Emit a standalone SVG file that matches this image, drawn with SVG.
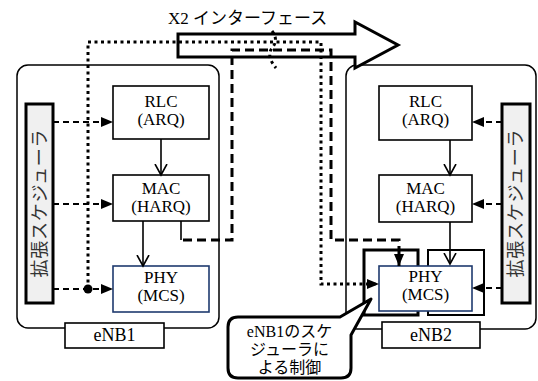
<svg xmlns="http://www.w3.org/2000/svg" width="538" height="381" viewBox="0 0 538 381">
<style>
.t{font-family:"Liberation Serif","Noto Sans CJK JP",serif;fill:#000;text-anchor:middle}
.b{font-family:"Liberation Serif",serif;font-size:17px;fill:#000;text-anchor:middle}
.box{fill:#fff;stroke:#000;stroke-width:1.6}
.phy{fill:#fff;stroke:#1f3a6e;stroke-width:1.6}
.cont{fill:#fff;stroke:#000;stroke-width:1.5}
.sch{fill:#f0f0f0;stroke:#000;stroke-width:3}
.scht{font-family:"Noto Sans CJK JP",sans-serif;font-size:18px;fill:#333;text-anchor:middle}
.dash{fill:none;stroke:#000;stroke-width:2;stroke-dasharray:6 4}
.solid{fill:none;stroke:#000;stroke-width:1.6}
.bigdash{fill:none;stroke:#000;stroke-width:3;stroke-dasharray:9 5}
.dot{fill:none;stroke:#000;stroke-width:3;stroke-dasharray:3 3.5}
</style>
<defs>
<marker id="tri" markerUnits="userSpaceOnUse" markerWidth="12" markerHeight="10" refX="12" refY="5" orient="auto">
<path d="M0,0 L12,5 L0,10 Z" fill="#000"/>
</marker>
<marker id="vee" markerUnits="userSpaceOnUse" markerWidth="14" markerHeight="14" refX="11" refY="7" orient="auto">
<path d="M0,1 L11,7 L0,13" fill="none" stroke="#000" stroke-width="1.6"/>
</marker>
</defs>

<g id="eNB1">
<rect class="cont" x="17" y="65" width="202" height="263" rx="11"/>
<rect class="box" x="65" y="323" width="99" height="25"/>
<text class="t" x="114.5" y="341" font-size="18">eNB1</text>
</g>
<g id="eNB2">
<rect class="cont" x="346" y="65" width="190" height="264" rx="11"/>
<rect class="box" x="382" y="322" width="98" height="26"/>
<text class="t" x="431" y="341" font-size="18">eNB2</text>
</g>

<g id="x2">
<polygon points="178,34 355,34 355,22 398,45 355,68 355,57 178,57" fill="#fff" stroke="#000" stroke-width="3" stroke-linejoin="miter"/>
<text class="t" x="168" y="24" font-size="17" style="text-anchor:start">X2 インターフェース</text>
</g>

<g id="sched1">
<rect class="sch" x="26" y="104" width="27" height="199"/>
<text class="scht" transform="translate(40,203.5) rotate(-90)" y="6" textLength="148">拡張スケジューラ</text>
</g>
<g id="sched2">
<rect class="sch" x="502" y="104" width="28" height="199"/>
<text class="scht" transform="translate(516,203.5) rotate(-90)" y="6" textLength="148">拡張スケジューラ</text>
</g>

<g id="rlc1">
<rect class="box" x="113" y="86" width="96" height="53"/>
<text class="b"><tspan x="161" y="107">RLC</tspan><tspan x="161" y="125">(ARQ)</tspan></text>
</g>
<g id="mac1">
<rect class="box" x="113" y="175" width="96" height="46"/>
<text class="b"><tspan x="161" y="194">MAC</tspan><tspan x="161" y="212">(HARQ)</tspan></text>
</g>
<g id="phy1">
<rect class="phy" x="113" y="266" width="96" height="46"/>
<text class="b"><tspan x="161" y="283">PHY</tspan><tspan x="161" y="301">(MCS)</tspan></text>
</g>

<g id="overlay-l">
<rect x="364" y="250" width="54" height="65" fill="#fff" stroke="#000" stroke-width="3"/>
</g>
<g id="overlay-r">
<rect x="428" y="250" width="56" height="65" fill="#fff" stroke="#000" stroke-width="2"/>
</g>

<g id="rlc2">
<rect class="box" x="379" y="86" width="93" height="54"/>
<text class="b"><tspan x="425.5" y="107">RLC</tspan><tspan x="425.5" y="125">(ARQ)</tspan></text>
</g>
<g id="mac2">
<rect class="box" x="379" y="175" width="93" height="47"/>
<text class="b"><tspan x="425.5" y="194">MAC</tspan><tspan x="425.5" y="212">(HARQ)</tspan></text>
</g>
<g id="phy2">
<rect class="phy" x="379" y="266" width="93" height="45"/>
<text class="b"><tspan x="425.5" y="282">PHY</tspan><tspan x="425.5" y="300">(MCS)</tspan></text>
</g>

<g id="connectors">
<path class="solid" d="M161,139 V175" marker-end="url(#vee)"/>
<path class="solid" d="M143,221 V266" marker-end="url(#vee)"/>
<path class="solid" d="M450,140 V175" marker-end="url(#vee)"/>
<path class="solid" d="M450,222 V264" marker-end="url(#vee)"/>

<path class="dash" d="M53,122 H113" marker-end="url(#tri)"/>
<path class="dash" d="M53,204 H113" marker-end="url(#tri)"/>
<path class="dash" d="M53,289 H113" marker-end="url(#tri)"/>
<path class="dash" d="M502,122 H472" marker-end="url(#tri)"/>
<path class="dash" d="M502,204 H472" marker-end="url(#tri)"/>
<path class="dash" d="M502,288 H472" marker-end="url(#tri)"/>

<path class="dot" d="M88,289 V42 H321 V284 H379" marker-end="url(#tri)"/>
<circle cx="88" cy="289" r="4.5" fill="#000"/>
<path class="dot" d="M272,31 Q279,40 272,48 Q266,56 276,68" stroke-width="2.5"/>

<path class="solid" d="M181,221 V240" stroke-width="2.5"/>
<path class="bigdash" d="M183,240 H232 V50 H331 V240 H399 V266" marker-end="url(#tri)"/>
</g>

<g id="callout">
<path d="M238,317 H340 L371,299 L351,335 V368 Q351,378 341,378 H238 Q228,378 228,368 V327 Q228,317 238,317 Z" fill="#fff" stroke="#000" stroke-width="3" stroke-linejoin="round"/>
<text class="t" font-size="16"><tspan x="289.5" y="337">eNB1のスケ</tspan><tspan x="289.5" y="355">ジューラに</tspan><tspan x="289.5" y="373">よる制御</tspan></text>
</g>
</svg>
